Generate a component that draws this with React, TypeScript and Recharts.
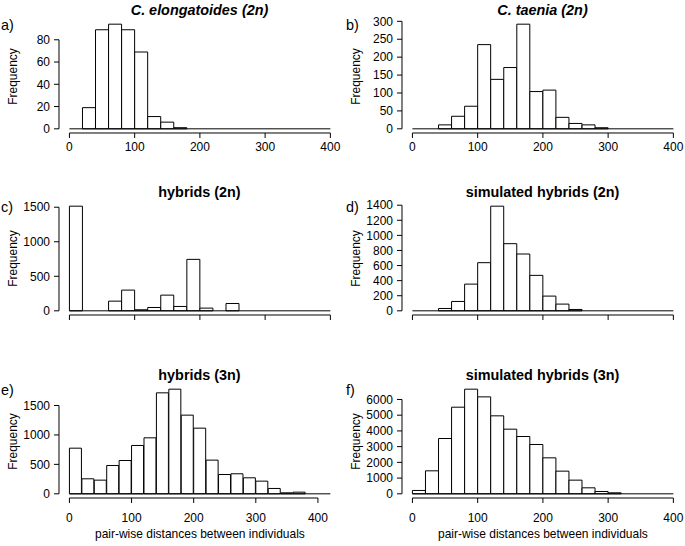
import React from 'react'
import { BarChart, Bar, XAxis, YAxis, ReferenceLine, Label } from 'recharts'

// bin midpoints (20-wide bins)
const mids400 = [10, 30, 50, 70, 90, 110, 130, 150, 170, 190, 210, 230, 250, 270, 290, 310, 330, 350, 370, 390]
const mids420 = [10, 30, 50, 70, 90, 110, 130, 150, 170, 190, 210, 230, 250, 270, 290, 310, 330, 350, 370, 390, 410]

const elongatoides2n = [0, 19, 89, 94, 89, 69, 11, 6, 1, 0, 0, 0, 0, 0, 0, 0, 0, 0, 0, 0]
const taenia2n = [0, 0, 11, 35, 63, 235, 138, 171, 292, 104, 108, 32, 15, 11, 3, 0, 0, 0, 0, 0]
const hybrids2n = [1515, 0, 0, 140, 300, 15, 48, 227, 63, 745, 39, 0, 106, 0, 0, 0, 0, 0, 0, 0]
const simulated2n = [0, 0, 31, 124, 354, 638, 1387, 890, 753, 470, 195, 89, 18, 0, 0, 0, 0, 0, 0, 0]
const hybrids3n = [775, 255, 232, 481, 566, 821, 951, 1715, 1777, 1336, 1115, 572, 328, 340, 272, 215, 91, 17, 28, 0, 0]
const simulated3n = [212, 1462, 3517, 5508, 6653, 6165, 4958, 4110, 3644, 3136, 2288, 1441, 869, 381, 148, 64, 0, 0, 0, 0]

const xTicks = [0, 100, 200, 300, 400]
const ticksA = [0, 20, 40, 60, 80]
const ticksB = [0, 50, 100, 150, 200, 250, 300]
const ticksC = [0, 500, 1000, 1500]
const ticksD = [0, 200, 400, 600, 800, 1000, 1200, 1400]
const ticksE = [0, 500, 1000, 1500]
const ticksF = [0, 1000, 2000, 3000, 4000, 5000, 6000]

const FONT = '"Liberation Sans", Arial, Helvetica, sans-serif'
const PLOT_W = 281.8
const PLOT_H = 113
const Y_W = 60
const COLS = [58.6, 401.6]
const ROWS = [19.5, 202.4, 385.4]
// row 0 has close tick labels, row 1 none, row 2 further away + axis title
const X_TICK_MARGIN = [4.3, 4.3, 10]

interface PanelProps {
  mids: number[]
  counts: number[]
  yTicks: number[]
  xMax: number
  col: number
  row: number
  title: string
  italic?: boolean
  letter: string
}

function Panel({ mids, counts, yTicks, xMax, col, row, title, italic, letter }: PanelProps) {
  const data = mids.map((m, i) => ({ mid: m, count: counts[i] }))
  const yMax = Math.max(...counts)
  const xPad = xMax * 0.04
  const yPad = yMax * 0.04
  const left = COLS[col]
  const top = ROWS[row]
  const xLabel = row === 2
  const xh = xLabel ? 46 : 30

  return (
    <>
      <div style={{ position: 'absolute', left: left - Y_W, top: top - 10 }}>
        <BarChart
          width={Y_W + PLOT_W + 10}
          height={10 + PLOT_H + xh}
          data={data}
          margin={{ top: 10, right: 10, bottom: 0, left: 0 }}
          barCategoryGap={0}
          barGap={0}
        >
          <XAxis
            type="number"
            dataKey="mid"
            domain={[-xPad, xMax + xPad]}
            allowDataOverflow
            ticks={xTicks}
            interval={0}
            height={xh}
            axisLine={false}
            tickSize={5}
            tickMargin={X_TICK_MARGIN[row]}
            tickLine={{ stroke: '#000' }}
            tick={{ fill: '#000', fontSize: 12 }}
            tickFormatter={(v: number) => (row === 1 ? '' : String(v))}
          >
            {xLabel && (
              <Label
                value="pair-wise distances between individuals"
                position="insideBottom"
                offset={5.5}
                fill="#000"
                fontSize={12}
              />
            )}
          </XAxis>
          <YAxis
            type="number"
            domain={[-yPad, yMax + yPad]}
            allowDataOverflow
            ticks={yTicks}
            interval={0}
            width={Y_W}
            axisLine={false}
            tickSize={5}
            tickMargin={4}
            tickLine={{ stroke: '#000' }}
            tick={{ fill: '#000', fontSize: 12 }}
          >
            <Label
              value="Frequency"
              angle={-90}
              position="insideLeft"
              offset={14}
              fill="#000"
              fontSize={12}
              style={{ textAnchor: 'middle' }}
            />
          </YAxis>
          <ReferenceLine
            segment={[{ x: -xPad, y: 0 }, { x: -xPad, y: yTicks[yTicks.length - 1] }]}
            stroke="#000"
            ifOverflow="visible"
          />
          <ReferenceLine
            segment={[{ x: 0, y: -yPad }, { x: 400, y: -yPad }]}
            stroke="#000"
            ifOverflow="visible"
          />
          <ReferenceLine
            segment={[{ x: 0, y: 0 }, { x: xMax, y: 0 }]}
            stroke="#000"
            ifOverflow="visible"
          />
          <Bar dataKey="count" fill="#fff" stroke="#000" strokeWidth={1} isAnimationActive={false} />
        </BarChart>
      </div>
      <svg
        style={{ position: 'absolute', left: 0, top: 0, overflow: 'visible', pointerEvents: 'none' }}
        width={685}
        height={546}
      >
        <text
          x={left + PLOT_W / 2}
          y={top - 5}
          textAnchor="middle"
          fontSize={14.4}
          fontWeight="bold"
          fontStyle={italic ? 'italic' : 'normal'}
          fill="#000"
          fontFamily={FONT}
        >
          {title}
        </text>
        <text x={col === 0 ? 1 : 346} y={top + 10} fontSize={14.4} fill="#000" fontFamily={FONT}>
          {letter}
        </text>
      </svg>
    </>
  )
}

export default function App() {
  return (
    <div
      style={{
        position: 'absolute',
        left: 0,
        top: 0,
        width: 685,
        height: 546,
        background: '#fff',
        fontFamily: FONT,
        overflow: 'hidden',
      }}
    >
      <Panel mids={mids400} counts={elongatoides2n} yTicks={ticksA} xMax={400} col={0} row={0}
        title="C. elongatoides (2n)" italic letter="a)" />
      <Panel mids={mids400} counts={taenia2n} yTicks={ticksB} xMax={400} col={1} row={0}
        title="C. taenia (2n)" italic letter="b)" />
      <Panel mids={mids400} counts={hybrids2n} yTicks={ticksC} xMax={400} col={0} row={1}
        title="hybrids (2n)" letter="c)" />
      <Panel mids={mids400} counts={simulated2n} yTicks={ticksD} xMax={400} col={1} row={1}
        title="simulated hybrids (2n)" letter="d)" />
      <Panel mids={mids420} counts={hybrids3n} yTicks={ticksE} xMax={420} col={0} row={2}
        title="hybrids (3n)" letter="e)" />
      <Panel mids={mids400} counts={simulated3n} yTicks={ticksF} xMax={400} col={1} row={2}
        title="simulated hybrids (3n)" letter="f)" />
    </div>
  )
}
